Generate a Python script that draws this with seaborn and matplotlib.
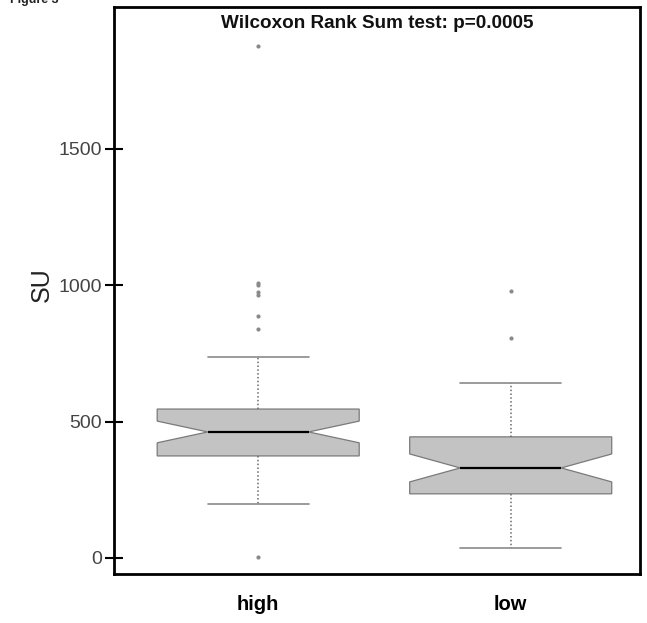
import matplotlib
matplotlib.use("Agg")
import matplotlib.pyplot as plt
import seaborn as sns
import pandas as pd

# SU measurements per group (sorted)
groups = ["high", "low"]
high_su = [4, 198, 236, 262, 285, 301, 318, 332, 347, 356, 366,
           374, 374, 381, 390, 398, 407, 418, 427, 436, 447, 455,
           462, 462, 470, 477, 486, 494, 503, 511, 522, 531, 540,
           546, 546, 583, 621, 668, 737,
           841, 888, 966, 974, 1002, 1008, 1877]
low_su = [37, 82, 118, 146, 169, 184, 198, 210, 219, 228,
          235, 246, 259, 268, 279, 288, 297, 306, 315, 323,
          330, 341, 352, 364, 377, 389, 401, 414, 425, 436,
          444, 462, 481, 503, 528, 556, 584, 612, 641,
          807, 979]
y_ticks = [0, 500, 1000, 1500]
title_text = "Wilcoxon Rank Sum test: p=0.0005"

df = pd.DataFrame({
    "group": [groups[0]] * len(high_su) + [groups[1]] * len(low_su),
    "SU": high_su + low_su,
})

sns.set_style("white")
plt.rcParams["font.family"] = ["Liberation Sans", "DejaVu Sans"]

fig = plt.figure(figsize=(6.47, 6.23), dpi=100)
ax = fig.add_axes([0.1762, 0.0787, 0.8130, 0.9101])

sns.boxplot(
    data=df, x="group", y="SU", order=groups, ax=ax,
    notch=True, width=0.8, color="#c3c3c3", linecolor="#7a7a7a",
    linewidth=0.9, saturation=1,
    whiskerprops=dict(linestyle=(0, (1, 1.5)), color="#6a6a6a", linewidth=1.1),
    capprops=dict(color="#8a8a8a", linewidth=1.2),
    medianprops=dict(color="black", linewidth=1.6),
    flierprops=dict(marker="o", markersize=3, markerfacecolor="#8a8a8a",
                    markeredgecolor="#8a8a8a", markeredgewidth=0),
)

ax.set_xlim(-0.571, 1.512)
ax.set_ylim(-59, 2021)
ax.set_yticks(y_ticks)
ax.set_yticklabels([str(t) for t in y_ticks])

for side in ["left", "right", "top", "bottom"]:
    ax.spines[side].set_visible(True)
    ax.spines[side].set_color("black")
    ax.spines[side].set_linewidth(2.0)

ax.tick_params(axis="y", direction="inout", length=13, width=1.5,
               color="black", labelsize=14, labelcolor="#444444", pad=2,
               left=True)
ax.tick_params(axis="x", length=0, pad=15, labelsize=14.5, labelcolor="black")
for lbl in ax.get_xticklabels():
    lbl.set_fontweight("bold")

ax.set_xlabel("")
ax.set_ylabel("SU", fontsize=18, color="#222222")
ax.yaxis.set_label_coords(-0.115, 0.51)

ax.text(0.5, 0.9715, title_text, transform=ax.transAxes,
        ha="center", va="center", fontsize=13.6, fontweight="bold", color="#111111")

fig.text(0.015, 1 - 3 / 623, "Figure 3", fontsize=9, fontweight="bold",
         va="baseline", ha="left", color="#222222")

fig.savefig("out.png", dpi=100, facecolor="white")
